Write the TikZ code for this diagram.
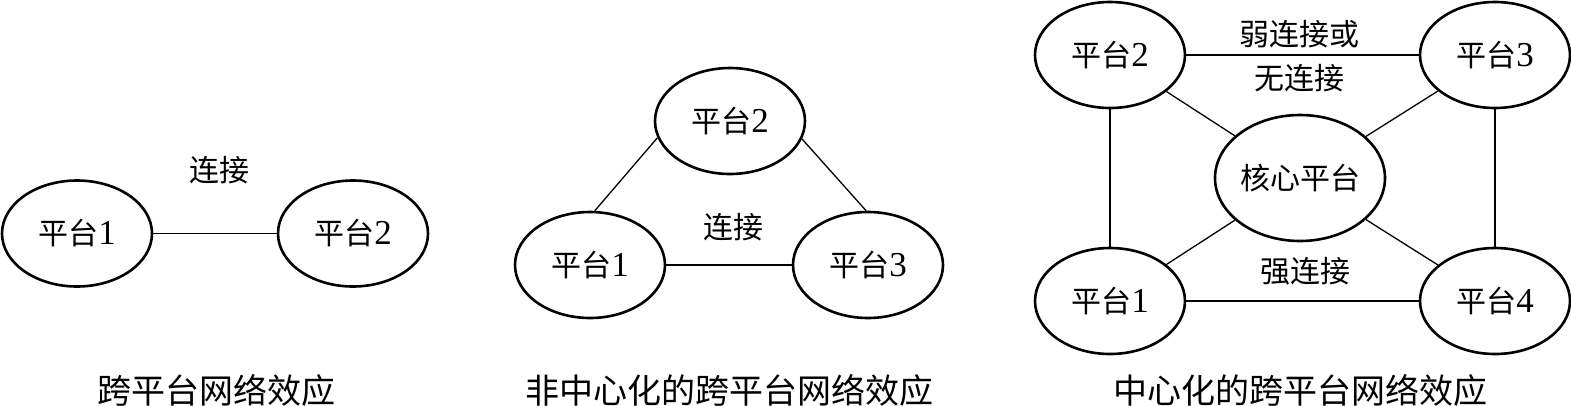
\documentclass[tikz,border=0pt]{standalone}
\usepackage{fontspec}
\setmainfont{Liberation Serif}
\newfontfamily\cjk{Noto Sans CJK SC}
\usetikzlibrary{shapes.geometric}
\newcommand{\pt}[1]{{\cjk 平台}{\fontsize{35}{36}\selectfont #1}}
\begin{document}
\begin{tikzpicture}[x=1pt,y=-1pt,
  plat/.style={ellipse,draw,line width=2.6pt,minimum width=150pt,minimum height=106pt,inner sep=0pt,font=\fontsize{30}{36}\selectfont},
  corebox/.style={plat,minimum width=170pt,minimum height=126pt},
  lbl/.style={inner sep=0pt,font=\fontsize{30}{36}\selectfont\cjk},
  captxt/.style={inner sep=0pt,font=\fontsize{34}{40}\selectfont\cjk},
  conn/.style={line width=1.3pt}]
\useasboundingbox (0,0) rectangle (1571,405);
% left panel
\node[plat] (a1) at (77,233.5) {\pt{1}};
\node[plat] (a2) at (353,233.5) {\pt{2}};
\draw[conn] (a1) -- (a2);
\node[lbl] (al) at (219,170) {连接};
\node[captxt] (ac) at (216,390) {跨平台网络效应};
% middle panel
\node[plat] (b2) at (730,121) {\pt{2}};
\node[plat] (b1) at (590,265) {\pt{1}};
\node[plat] (b3) at (868,265) {\pt{3}};
\draw[conn] (b1) -- (b3);
\draw[conn] (b1.85) -- (b2.193);
\draw[conn] (b2.346) -- (b3.92);
\node[lbl] (bl) at (733,227) {连接};
\node[captxt] (bc) at (729,390) {非中心化的跨平台网络效应};
% right panel
\node[plat] (c2) at (1110,55) {\pt{2}};
\node[plat] (c3) at (1495,55) {\pt{3}};
\node[plat] (c1) at (1110,301) {\pt{1}};
\node[plat] (c4) at (1495,301) {\pt{4}};
\node[corebox,font=\fontsize{30}{36}\selectfont\cjk] (cc) at (1300,178) {核心平台};
\draw[conn] (c2) -- (c3);
\draw[conn] (c1) -- (c4);
\draw[conn] (c2) -- (c1);
\draw[conn] (c3) -- (c4);
\draw[conn] (c2) -- (cc);
\draw[conn] (c3) -- (cc);
\draw[conn] (c1) -- (cc);
\draw[conn] (c4) -- (cc);
\node[lbl] (cl1) at (1299,34) {弱连接或};
\node[lbl] (cl2) at (1299,78) {无连接};
\node[lbl] (cl3) at (1305,271) {强连接};
\node[captxt] (ccap) at (1300,390) {中心化的跨平台网络效应};
\end{tikzpicture}
\end{document}
